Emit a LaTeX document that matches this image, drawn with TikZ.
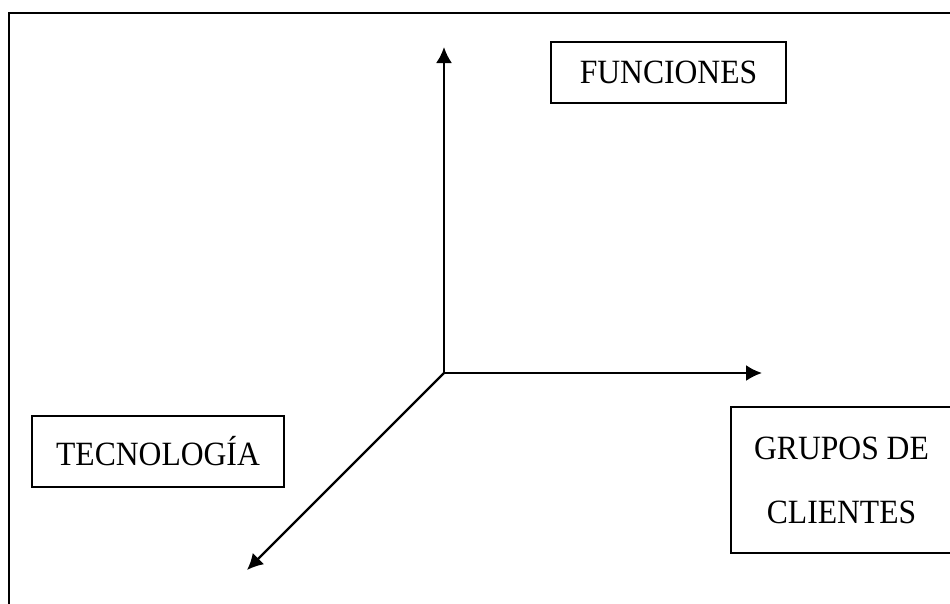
\documentclass[tikz,border=0pt]{standalone}
\usepackage{fontspec}
\setmainfont[FakeStretch=0.93]{Liberation Serif}
\usepackage{tikz}
\usetikzlibrary{arrows.meta}
\tikzset{caja/.style={draw, line width=1.5pt, inner sep=0pt, align=center, font=\fontsize{34}{64}\selectfont}}

\begin{document}
\begin{tikzpicture}[x=1pt,y=-1pt, eje/.style={line width=2.2pt, -{Latex[length=16pt,width=16pt]}}]
            \useasboundingbox (0,0) rectangle (950,603);
            \draw[line width=2pt] (8.5,13) rectangle (953,606); %%外框,右边和下边在图外
            \coordinate (O) at (444,373);
            %%三个轴的端点
            \coordinate (arriba) at (444,47);
            \coordinate (derecha) at (762,373);
            \coordinate (abajo) at (247,570);
            \foreach \p in {arriba,derecha,abajo}{ %从原点O画到每个端点
            \draw[eje] (O) -- (\p);
            }
        \node[caja, minimum width=235pt, minimum height=61pt] (funciones) at (668.5,72.5) {FUNCIONES};
        \node[caja, minimum width=252pt, minimum height=71pt] (tecnologia) at (158,451.5) {TECNOLOG\'IA};
        \node[caja, minimum width=221pt, minimum height=146pt] (grupos) at (841.5,480) {GRUPOS DE\\CLIENTES};
        \end{tikzpicture}
\end{document}
